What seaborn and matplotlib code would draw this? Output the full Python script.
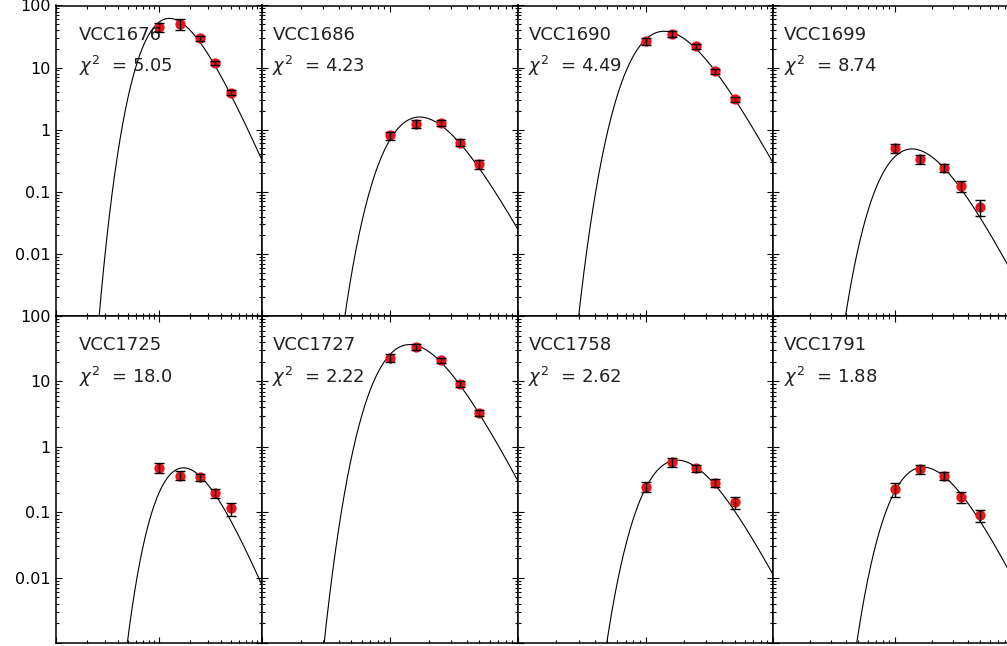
import numpy as np
import pandas as pd
import matplotlib
matplotlib.use("Agg")
import matplotlib.pyplot as plt
import seaborn as sns
from matplotlib.ticker import LogLocator, FuncFormatter, NullFormatter

# ---------------- data ----------------
galaxies = ["VCC1676", "VCC1686", "VCC1690", "VCC1699",
            "VCC1725", "VCC1727", "VCC1758", "VCC1791"]
chi2_values = ["5.05", "4.23", "4.49", "8.74", "18.0", "2.22", "2.62", "1.88"]

wavelength_um = [100, 160, 250, 350, 500]

flux_vcc1676 = [45.0, 50.0, 30.0, 11.9, 3.95]
err_vcc1676 = [8.0, 10.0, 2.7, 1.0, 0.35]
flux_vcc1686 = [0.81, 1.25, 1.28, 0.62, 0.28]
err_vcc1686 = [0.12, 0.19, 0.15, 0.08, 0.05]
flux_vcc1690 = [26.5, 34.9, 22.1, 8.7, 3.13]
err_vcc1690 = [3.3, 3.6, 2.2, 0.75, 0.29]
flux_vcc1699 = [0.507, 0.336, 0.241, 0.126, 0.057]
err_vcc1699 = [0.09, 0.058, 0.036, 0.025, 0.016]
flux_vcc1725 = [0.477, 0.364, 0.343, 0.198, 0.114]
err_vcc1725 = [0.08, 0.058, 0.047, 0.032, 0.025]
flux_vcc1727 = [23.0, 33.8, 21.1, 9.18, 3.31]
err_vcc1727 = [3.5, 4.0, 1.9, 0.85, 0.35]
flux_vcc1758 = [0.244, 0.582, 0.471, 0.281, 0.142]
err_vcc1758 = [0.043, 0.09, 0.06, 0.04, 0.03]
flux_vcc1791 = [0.228, 0.461, 0.364, 0.169, 0.090]
err_vcc1791 = [0.056, 0.075, 0.05, 0.032, 0.018]

# fitted modified-blackbody parameters (beta = 2) estimated from each curve
dust_temperature_K = [23.0, 17.0, 20.7, 21.0, 16.8, 20.3, 16.3, 17.0]
model_peak_flux = [62.0, 1.6, 38.5, 0.49, 0.477, 36.6, 0.625, 0.488]
beta = 2.0

fluxes = [flux_vcc1676, flux_vcc1686, flux_vcc1690, flux_vcc1699,
          flux_vcc1725, flux_vcc1727, flux_vcc1758, flux_vcc1791]
errors = [err_vcc1676, err_vcc1686, err_vcc1690, err_vcc1699,
          err_vcc1725, err_vcc1727, err_vcc1758, err_vcc1791]

ytick_values = [100, 10, 1, 0.1, 0.01]
ytick_labels = ["100", "10", "1", "0.1", "0.01"]

# ---------------- style ----------------
sns.set_style("ticks")
plt.rcParams["font.family"] = ["DejaVu Sans"]
plt.rcParams["mathtext.fontset"] = "dejavusans"

W, H = 1007, 646
fig = plt.figure(figsize=(W / 100, H / 100), dpi=100)

col_edges = [(56, 262), (262, 518), (518, 773), (773, 1017)]
row_edges = [(5.5, 316), (316, 643)]

PX = 0.72  # points per pixel at dpi 100


def mbb(lam, T):
    x = 14388.0 / (lam * T)
    return x ** (3 + beta) / np.expm1(x)


lam_grid = np.logspace(1, 3, 600)

label_map = dict(zip(ytick_values, ytick_labels))


def ylab(v, p):
    for val, lbl in label_map.items():
        if abs(np.log10(v) - np.log10(val)) < 1e-6:
            return lbl
    return ""


for i, name in enumerate(galaxies):
    r, c = divmod(i, 4)
    x0, x1 = col_edges[c]
    y0, y1 = row_edges[r]
    ax = fig.add_axes([x0 / W, (H - y1) / H, (x1 - x0) / W, (y1 - y0) / H])
    ax.set_xscale("log")
    ax.set_yscale("log")
    ax.set_xlim(10, 1000)
    ax.set_ylim(1e-3, 1e2)

    model = mbb(lam_grid, dust_temperature_K[i])
    model = model / model.max() * model_peak_flux[i]
    curve = pd.DataFrame({"lam": lam_grid, "flux": model})
    sns.lineplot(data=curve, x="lam", y="flux", ax=ax, color="black",
                 lw=0.8, sort=False, estimator=None)

    pts = pd.DataFrame({"lam": wavelength_um, "flux": fluxes[i], "err": errors[i]})
    sns.scatterplot(data=pts, x="lam", y="flux", ax=ax, color="#e8141a",
                    s=55, linewidth=0, zorder=3)
    ax.errorbar(pts["lam"], pts["flux"], yerr=pts["err"], fmt="none",
                ecolor="black", elinewidth=1.0, capsize=3.6, capthick=1.0,
                zorder=4)

    # ticks
    ax.xaxis.set_major_locator(LogLocator(base=10, numticks=10))
    ax.xaxis.set_minor_locator(LogLocator(base=10, subs=np.arange(2, 10), numticks=20))
    ax.yaxis.set_major_locator(LogLocator(base=10, numticks=10))
    ax.yaxis.set_minor_locator(LogLocator(base=10, subs=np.arange(2, 10), numticks=20))
    ax.xaxis.set_major_formatter(NullFormatter())
    ax.xaxis.set_minor_formatter(NullFormatter())
    ax.yaxis.set_minor_formatter(NullFormatter())
    if c == 0:
        ax.yaxis.set_major_formatter(FuncFormatter(ylab))
    else:
        ax.yaxis.set_major_formatter(NullFormatter())
    ax.tick_params(which="both", direction="in", top=True, right=True,
                   width=0.8, colors="black", labelsize=11.5, pad=4)
    ax.tick_params(which="major", length=6 * PX)
    ax.tick_params(which="minor", length=3 * PX)
    for sp in ax.spines.values():
        sp.set_linewidth(1.1)
        sp.set_color("black")
    ax.set_xlabel("")
    ax.set_ylabel("")

    dx = 23 if c == 0 else 10.5
    ax.annotate(name, xy=(0, 1), xycoords="axes fraction",
                xytext=(dx * PX, -34.5 * PX), textcoords="offset points",
                ha="left", va="baseline", fontsize=13, color="#222222")
    ax.annotate(r"$\chi^2$  = " + chi2_values[i], xy=(0, 1), xycoords="axes fraction",
                xytext=(dx * PX, -67 * PX), textcoords="offset points",
                ha="left", va="baseline", fontsize=13, color="#222222")

fig.savefig("out.png", dpi=100)
